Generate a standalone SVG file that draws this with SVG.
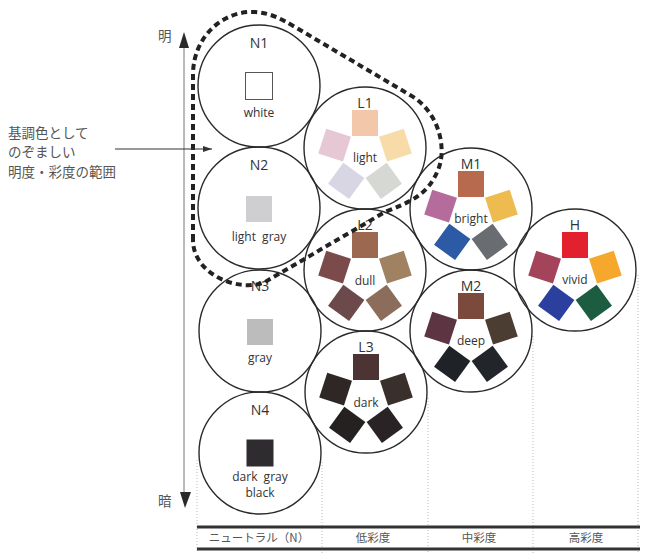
<svg xmlns="http://www.w3.org/2000/svg" xmlns:xlink="http://www.w3.org/1999/xlink" width="650" height="556" viewBox="0 0 650 556">
<style>
.c{fill:none;stroke:#2a2a2a;stroke-width:1.4}
.t{font-family:"Open Sans","Noto Sans",sans-serif;font-size:14px;fill:#333;text-anchor:middle}
.l{font-family:"Open Sans","Noto Sans",sans-serif;font-size:12px;fill:#333;text-anchor:middle;word-spacing:3px}
.j{font-family:"Noto Sans CJK JP",sans-serif;font-size:13.5px;fill:#555}
.b{font-family:"Noto Sans CJK JP",sans-serif;font-size:11.5px;fill:#555;text-anchor:middle}
.g{stroke:#bbb;stroke-width:1;stroke-dasharray:1 2}
</style>
<defs>
<rect id="sq" x="-13" y="-13" width="26" height="26"/>
<marker id="ah" markerWidth="10" markerHeight="8" refX="9" refY="4" orient="auto" markerUnits="userSpaceOnUse">
<path d="M0,1 L9,4 L0,7 Z" fill="#333"/>
</marker>
</defs>
<rect width="650" height="556" fill="#fff"/>

<g id="grid">
<line class="g" x1="197" y1="460" x2="197" y2="553"/>
<line class="g" x1="322" y1="462" x2="322" y2="553"/>
<line class="g" x1="428" y1="398" x2="428" y2="553"/>
<line class="g" x1="533" y1="336" x2="533" y2="553"/>
<line class="g" x1="638" y1="275" x2="638" y2="553"/>
<line x1="197" y1="527" x2="640" y2="527" stroke="#333" stroke-width="3"/>
<line x1="197" y1="549" x2="640" y2="549" stroke="#333" stroke-width="3"/>
<text class="b" x="259" y="542">ニュートラル（N）</text>
<text class="b" x="373" y="542">低彩度</text>
<text class="b" x="479" y="542">中彩度</text>
<text class="b" x="586" y="542">高彩度</text>
</g>

<g id="axis">
<line x1="184" y1="46" x2="184" y2="494" stroke="#777" stroke-width="1"/>
<path d="M184,32 L179,48 L189,48 Z" fill="#2a2a2a"/>
<path d="M185,508 L180,492 L191,492 Z" fill="#2a2a2a"/>
<text class="j" x="158" y="41" font-size="10px">明</text>
<text class="j" x="158" y="506" font-size="10px">暗</text>
</g>

<g id="N1" transform="translate(259,86)">
<circle class="c" r="61"/>
<text class="t" y="-38">N1</text>
<rect x="-13.5" y="-13.5" width="27" height="27" fill="#fff" stroke="#555" stroke-width="1"/>
<text class="l" y="31">white</text>
</g>
<g id="N2" transform="translate(259,208)">
<circle class="c" r="61"/>
<text class="t" y="-38">N2</text>
<rect x="-13" y="-12" width="26" height="26" fill="#cfcfd2"/>
<text class="l" y="33">light gray</text>
</g>
<g id="N3" transform="translate(260,331)">
<circle class="c" r="61"/>
<text class="t" y="-40">N3</text>
<rect x="-13" y="-12" width="26" height="26" fill="#bdbcbc"/>
<text class="l" y="31">gray</text>
</g>
<g id="N4" transform="translate(260,453)">
<circle class="c" r="61"/>
<text class="t" y="-38">N4</text>
<rect x="-13.5" y="-13.5" width="27" height="27" fill="#2e2c2e"/>
<text class="l" y="28">dark gray</text>
<text class="l" y="44">black</text>
</g>

<g id="L1" transform="translate(365,148)">
<circle class="c" r="61"/>
<text class="t" y="-40">L1</text>
<use xlink:href="#sq" transform="translate(0,-25)" fill="#f3c7aa"/>
<use xlink:href="#sq" transform="translate(30.4,-2.9) rotate(72)" fill="#f7dcaa"/>
<use xlink:href="#sq" transform="translate(18.8,32.9) rotate(144)" fill="#d6d8d3"/>
<use xlink:href="#sq" transform="translate(-18.8,32.9) rotate(216)" fill="#d8d6e3"/>
<use xlink:href="#sq" transform="translate(-30.4,-2.9) rotate(288)" fill="#e6c8d4"/>
<text class="l" y="14">light</text>
</g>
<g id="L2" transform="translate(365,270)">
<circle class="c" r="61"/>
<text class="t" y="-40">L2</text>
<use xlink:href="#sq" transform="translate(0,-25)" fill="#9c6850"/>
<use xlink:href="#sq" transform="translate(30.4,-2.9) rotate(72)" fill="#a08263"/>
<use xlink:href="#sq" transform="translate(18.8,32.9) rotate(144)" fill="#8c6c5a"/>
<use xlink:href="#sq" transform="translate(-18.8,32.9) rotate(216)" fill="#6c4a4c"/>
<use xlink:href="#sq" transform="translate(-30.4,-2.9) rotate(288)" fill="#7b4a4b"/>
<text class="l" y="15">dull</text>
</g>
<g id="L3" transform="translate(366,392)">
<circle class="c" r="61"/>
<text class="t" y="-40">L3</text>
<use xlink:href="#sq" transform="translate(0,-25)" fill="#4b3433"/>
<use xlink:href="#sq" transform="translate(30.4,-2.9) rotate(72)" fill="#3a302b"/>
<use xlink:href="#sq" transform="translate(18.8,32.9) rotate(144)" fill="#292325"/>
<use xlink:href="#sq" transform="translate(-18.8,32.9) rotate(216)" fill="#252121"/>
<use xlink:href="#sq" transform="translate(-30.4,-2.9) rotate(288)" fill="#2f2726"/>
<text class="l" y="15">dark</text>
</g>
<g id="M1" transform="translate(471,209)">
<circle class="c" r="61"/>
<text class="t" y="-40">M1</text>
<use xlink:href="#sq" transform="translate(0,-25)" fill="#b86a4e"/>
<use xlink:href="#sq" transform="translate(30.4,-2.9) rotate(72)" fill="#edbb4e"/>
<use xlink:href="#sq" transform="translate(18.8,32.9) rotate(144)" fill="#696c70"/>
<use xlink:href="#sq" transform="translate(-18.8,32.9) rotate(216)" fill="#2d5aa5"/>
<use xlink:href="#sq" transform="translate(-30.4,-2.9) rotate(288)" fill="#b56c9c"/>
<text class="l" y="14">bright</text>
</g>
<g id="M2" transform="translate(471,331)">
<circle class="c" r="61"/>
<text class="t" y="-40">M2</text>
<use xlink:href="#sq" transform="translate(0,-25)" fill="#7c4a3c"/>
<use xlink:href="#sq" transform="translate(30.4,-2.9) rotate(72)" fill="#4c3d33"/>
<use xlink:href="#sq" transform="translate(18.8,32.9) rotate(144)" fill="#22262a"/>
<use xlink:href="#sq" transform="translate(-18.8,32.9) rotate(216)" fill="#1f2327"/>
<use xlink:href="#sq" transform="translate(-30.4,-2.9) rotate(288)" fill="#5c3442"/>
<text class="l" y="14">deep</text>
</g>
<g id="H" transform="translate(575,270)">
<circle class="c" r="61"/>
<text class="t" y="-40">H</text>
<use xlink:href="#sq" transform="translate(0,-25)" fill="#e3202d"/>
<use xlink:href="#sq" transform="translate(30.4,-2.9) rotate(72)" fill="#f5a82c"/>
<use xlink:href="#sq" transform="translate(18.8,32.9) rotate(144)" fill="#1c5c40"/>
<use xlink:href="#sq" transform="translate(-18.8,32.9) rotate(216)" fill="#2a3f9e"/>
<use xlink:href="#sq" transform="translate(-30.4,-2.9) rotate(288)" fill="#a4445a"/>
<text class="l" y="14">vivid</text>
</g>

<g id="connectors">
<path d="M193,240 L193,75 C193,35 225,10 255,12 C270,13 280,18 295,27 L410,95 C440,112 447,150 438,170 C428,195 410,202 385,212 L265,282 C240,293 193,275 193,240 Z" fill="none" stroke="#222" stroke-width="4" stroke-dasharray="6 4"/>
<line x1="115" y1="149" x2="212" y2="149" stroke="#333" stroke-width="1.2" marker-end="url(#ah)"/>
</g>

<g id="note">
<text class="j" x="8" y="138">基調色として</text>
<text class="j" x="8" y="157">のぞましい</text>
<text class="j" x="8" y="177">明度・彩度の範囲</text>
</g>
</svg>
